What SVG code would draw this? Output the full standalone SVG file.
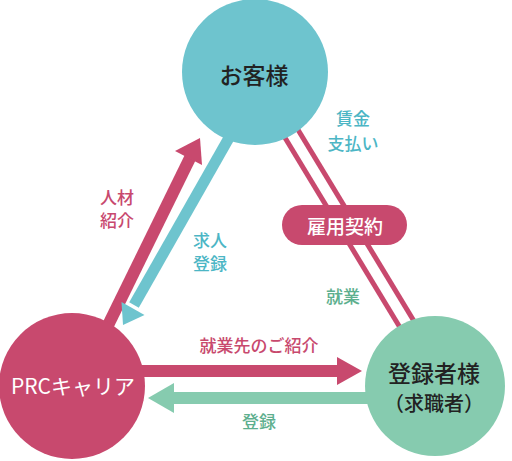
<svg xmlns="http://www.w3.org/2000/svg" width="512" height="461" viewBox="0 0 512 461">
<style>
text{font-family:"Noto Sans CJK JP","Noto Sans",sans-serif;text-anchor:middle;dominant-baseline:central}
.main{font-size:23px;fill:#222;font-weight:500}
.lbl{font-size:17px;font-weight:500}
.pk{fill:#C8496E}
.tl{fill:#4CB6C5}
.gn{fill:#5DAF8E}
.wt{fill:#fff}
</style>
<rect width="512" height="461" fill="#fff"/>
<g id="connectors">
  <line x1="270" y1="113" x2="410" y2="344" stroke="#C8496E" stroke-width="5"/>
  <line x1="283" y1="105" x2="423" y2="336" stroke="#C8496E" stroke-width="5"/>
  <path d="M90,362 L190,158" stroke="#C8496E" stroke-width="12" fill="none"/>
  <polygon points="200,138 202,165 175,151" fill="#C8496E"/>
  <path d="M238,122 L134,305" stroke="#6EC4CE" stroke-width="11" fill="none"/>
  <polygon points="123,325 121.5,302 144.5,315" fill="#6EC4CE"/>
  <path d="M120,371 L340,371" stroke="#C8496E" stroke-width="12" fill="none"/>
  <polygon points="362,371 337,357 337,385" fill="#C8496E"/>
  <path d="M400,398 L172,398" stroke="#86CBAF" stroke-width="12" fill="none"/>
  <polygon points="148,398 174,383 174,413" fill="#86CBAF"/>
</g>
<g id="node-client">
  <circle cx="255" cy="72" r="73" fill="#6EC4CE"/>
  <text class="main" x="254" y="74">お客様</text>
</g>
<g id="node-prc">
  <circle cx="72" cy="386" r="73" fill="#C8496E"/>
  <text class="wt" x="73" y="385" font-size="21">PRCキャリア</text>
</g>
<g id="node-registrant">
  <circle cx="435" cy="386" r="70" fill="#86CBAF"/>
  <text class="main" x="434" y="372" font-size="22">登録者様</text>
  <text x="434" y="402" font-size="20" fill="#222" font-weight="500">（求職者）</text>
</g>
<g id="node-contract">
  <rect x="282" y="205" width="125" height="40" rx="20" fill="#C8496E"/>
  <text class="wt" x="345" y="225" font-size="19" font-weight="500">雇用契約</text>
</g>
<g id="labels">
  <text class="lbl tl" x="353" y="117">賃金</text>
  <text class="lbl tl" x="353" y="142">支払い</text>
  <text class="lbl gn" x="343" y="295">就業</text>
  <text class="lbl pk" x="117" y="196">人材</text>
  <text class="lbl pk" x="117" y="219">紹介</text>
  <text class="lbl tl" x="210" y="239">求人</text>
  <text class="lbl tl" x="210" y="262">登録</text>
  <text class="lbl pk" x="259" y="344">就業先のご紹介</text>
  <text class="lbl gn" x="259" y="420">登録</text>
</g>
</svg>
